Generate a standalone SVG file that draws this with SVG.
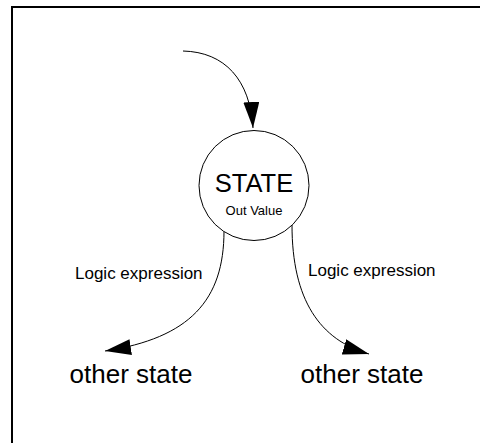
<svg xmlns="http://www.w3.org/2000/svg" width="480" height="443" viewBox="0 0 480 443">
<style>
.t{font-family:"Liberation Sans",Arial,sans-serif;fill:#000}
.c{fill:none;stroke:#000;stroke-width:1}
</style>
<defs>
<marker id="ah" markerUnits="userSpaceOnUse" markerWidth="27" markerHeight="17" refX="26" refY="8" orient="auto" viewBox="0 0 27 17">
<path d="M0,0 L26,8 L0,16 z" fill="#000"/>
</marker>
</defs>
<rect x="0" y="0" width="480" height="443" fill="#fff"/>
<rect x="12" y="7" width="480" height="450" fill="none" stroke="#000" stroke-width="2"/>
<g id="connectors">
<path class="c" d="M183,51 C225,52 250,80 253,128" marker-end="url(#ah)"/>
<path class="c" d="M224,231 C224,300 190,338 105,351" marker-end="url(#ah)"/>
<path class="c" d="M292,225 C292,300 320,340 369,354" marker-end="url(#ah)"/>
<text class="t" x="75" y="279" font-size="17">Logic expression</text>
<text class="t" x="308" y="276" font-size="17">Logic expression</text>
</g>
<g id="state">
<circle cx="254" cy="185.5" r="55" fill="#fff" stroke="#000" stroke-width="1"/>
<text class="t" x="254" y="192" font-size="25.5" text-anchor="middle">STATE</text>
<text class="t" x="254" y="215" font-size="13" text-anchor="middle">Out Value</text>
</g>
<g id="other1">
<text class="t" x="131" y="383" font-size="26" text-anchor="middle">other state</text>
</g>
<g id="other2">
<text class="t" x="362" y="383" font-size="26" text-anchor="middle">other state</text>
</g>
</svg>
